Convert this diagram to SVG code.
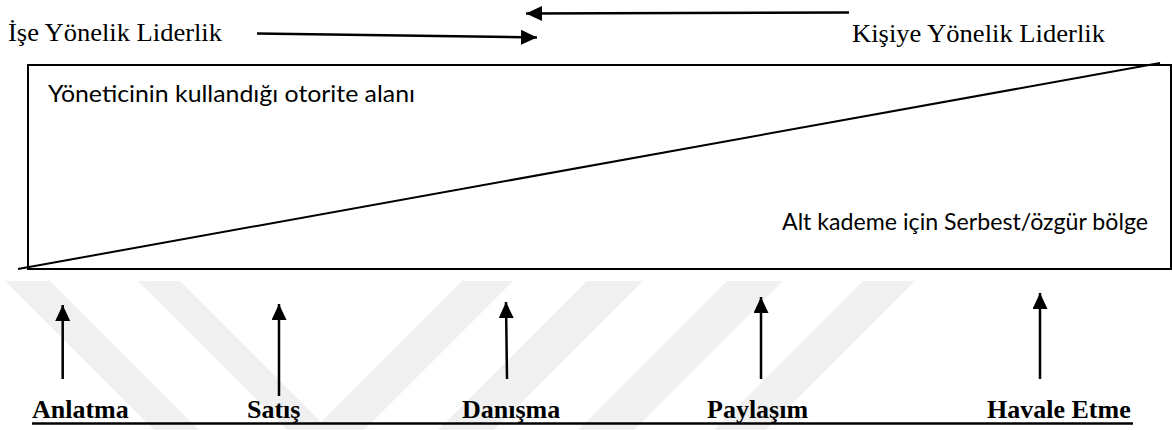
<svg xmlns="http://www.w3.org/2000/svg" width="1172" height="430" viewBox="0 0 1172 430">
<style>
.serif{font-family:"Liberation Serif","Times New Roman",serif;font-size:26px;fill:#000}
.bold{font-family:"Liberation Serif","Times New Roman",serif;font-size:26px;font-weight:bold;fill:#000}
.sans{font-family:Lato,"Open Sans","Liberation Sans",sans-serif;font-size:23px;fill:#000}
.wm{fill:#f0f0f0}
.conn{stroke:#000;stroke-width:2.5;fill:none}
.box{stroke:#000;stroke-width:2;fill:none}
</style>
<defs>
<marker id="ah" markerUnits="userSpaceOnUse" markerWidth="16" markerHeight="16" refX="16" refY="7.5" orient="auto">
<path d="M0,0 L16,7.5 L0,15 z" fill="#000"/>
</marker>
</defs>
<rect width="1172" height="430" fill="#fff"/>
<g id="watermark">
<polygon class="wm" points="5,281 50,281 199,430 154,430"/>
<polygon class="wm" points="138,281 180,281 329,430 287,430"/>
<polygon class="wm" points="462,281 513,281 364,430 313,430"/>
<polygon class="wm" points="587,281 643,281 494,430 438,430"/>
<polygon class="wm" points="727,281 783,281 634,430 578,430"/>
<polygon class="wm" points="863,281 915,281 766,430 714,430"/>
</g>
<g id="area">
<rect class="box" x="28" y="65" width="1143" height="204"/>
<line class="box" x1="18" y1="269" x2="1160" y2="63"/>
</g>
<g id="node-ise">
<text class="serif" x="8" y="41" textLength="214" lengthAdjust="spacingAndGlyphs">İşe Yönelik Liderlik</text>
</g>
<g id="node-kisiye">
<text class="serif" x="852" y="42" textLength="253" lengthAdjust="spacingAndGlyphs">Kişiye Yönelik Liderlik</text>
</g>
<g id="node-otorite">
<text class="sans" x="48" y="102" textLength="367" lengthAdjust="spacingAndGlyphs">Yöneticinin kullandığı otorite alanı</text>
</g>
<g id="node-serbest">
<text class="sans" x="782" y="230" textLength="366" lengthAdjust="spacingAndGlyphs">Alt kademe için Serbest/özgür bölge</text>
</g>
<g id="node-anlatma"><text class="bold" x="32" y="418">Anlatma</text></g>
<g id="node-satis"><text class="bold" x="247" y="418">Satış</text></g>
<g id="node-danisma"><text class="bold" x="462" y="418">Danışma</text></g>
<g id="node-paylasim"><text class="bold" x="707" y="418">Paylaşım</text></g>
<g id="node-havale"><text class="bold" x="987" y="418">Havale Etme</text></g>
<line id="underline" x1="32" y1="423.5" x2="1133" y2="423.5" stroke="#000" stroke-width="2.6"/>
<g id="connectors">
<line class="conn" x1="257" y1="33.5" x2="537" y2="37.5" marker-end="url(#ah)"/>
<line class="conn" x1="849" y1="12.5" x2="526" y2="13.5" marker-end="url(#ah)"/>
<line class="conn" x1="62.7" y1="379" x2="62.7" y2="305" marker-end="url(#ah)"/>
<line class="conn" x1="279" y1="396" x2="279" y2="304" marker-end="url(#ah)"/>
<line class="conn" x1="507" y1="379" x2="506" y2="302" marker-end="url(#ah)"/>
<line class="conn" x1="761" y1="379" x2="761" y2="297" marker-end="url(#ah)"/>
<line class="conn" x1="1040" y1="379" x2="1040" y2="293" marker-end="url(#ah)"/>
</g>
</svg>
